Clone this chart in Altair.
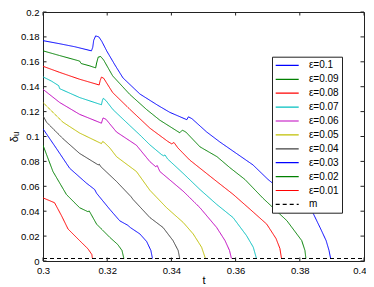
import altair as alt
import pandas as pd

# ---- data ----
labels = ["ε=0.1", "ε=0.09", "ε=0.08", "ε=0.07", "ε=0.06", "ε=0.05",
          "ε=0.04", "ε=0.03", "ε=0.02", "ε=0.01", "m"]
colors = ["#0000ff", "#008000", "#ff0000", "#00bfbf", "#bf00bf", "#bfbf00",
          "#404040", "#0000ff", "#008000", "#ff0000", "#000000"]
dashes = [[1, 0]] * 10 + [[4, 3]]

t_010 = [0.3, 0.3052, 0.3099, 0.3151, 0.3155, 0.3158, 0.3164, 0.3174, 0.3183, 0.3199,
         0.3224, 0.3249, 0.3302, 0.3358, 0.3395, 0.3448, 0.3453, 0.3464, 0.3510, 0.3551,
         0.3598, 0.3654, 0.3701, 0.3754, 0.3810, 0.3841, 0.3863, 0.3882, 0.3891, 0.3896]
d_010 = [0.1770, 0.1745, 0.1721, 0.1688, 0.1717, 0.1773, 0.1808, 0.1800, 0.1765, 0.1685,
         0.1575, 0.1471, 0.1341, 0.1250, 0.1194, 0.1135, 0.1158, 0.1143, 0.1036, 0.0956,
         0.0872, 0.0772, 0.0655, 0.0544, 0.0465, 0.0386, 0.0269, 0.0164, 0.0085, 0.002]

t_009 = [0.3, 0.3052, 0.3114, 0.3119, 0.3146, 0.3164, 0.3167, 0.3172, 0.3180, 0.3189,
         0.3217, 0.3270, 0.3323, 0.3364, 0.3426, 0.3434, 0.3445, 0.3489, 0.3542, 0.3582,
         0.3629, 0.3685, 0.3760, 0.3806, 0.3816, 0.3819]
d_009 = [0.1688, 0.1650, 0.1606, 0.1586, 0.1567, 0.1551, 0.1590, 0.1638, 0.1642, 0.1614,
         0.1487, 0.1339, 0.1216, 0.1131, 0.1030, 0.1051, 0.1036, 0.0917, 0.0838, 0.0750,
         0.0655, 0.0505, 0.0323, 0.0164, 0.0085, 0.002]

t_008 = [0.3, 0.3052, 0.3114, 0.3175, 0.3178, 0.3182, 0.3189, 0.3217, 0.3270, 0.3333,
         0.3389, 0.3401, 0.3408, 0.3420, 0.3457, 0.3541, 0.3592, 0.3644, 0.3697, 0.3726,
         0.3738, 0.3743]
d_008 = [0.1564, 0.1515, 0.1460, 0.1414, 0.1448, 0.1477, 0.1468, 0.1353, 0.1220, 0.1067,
         0.0960, 0.0941, 0.0952, 0.0909, 0.0811, 0.0639, 0.0536, 0.0418, 0.0296, 0.0180,
         0.0101, 0.002]

t_007 = [0.3, 0.3027, 0.3049, 0.3052, 0.3114, 0.3182, 0.3185, 0.3188, 0.3196, 0.3218,
         0.3270, 0.3302, 0.3333, 0.3370, 0.3376, 0.3380, 0.3388, 0.3437, 0.3489, 0.3541,
         0.3592, 0.3634, 0.3655, 0.3665]
d_007 = [0.1479, 0.1444, 0.1408, 0.1384, 0.1313, 0.1255, 0.1289, 0.1307, 0.1289, 0.1216,
         0.1089, 0.1012, 0.0933, 0.0853, 0.0845, 0.0852, 0.0820, 0.0703, 0.0574, 0.0455,
         0.0349, 0.0204, 0.0111, 0.002]

t_006 = [0.3, 0.3052, 0.3114, 0.3182, 0.3187, 0.3196, 0.3229, 0.3291, 0.3333, 0.3351,
         0.3356, 0.3364, 0.3437, 0.3489, 0.3541, 0.3567, 0.3581, 0.3587]
d_006 = [0.1379, 0.1273, 0.1178, 0.1107, 0.1149, 0.1139, 0.1036, 0.0930, 0.0798, 0.0758,
         0.0766, 0.0719, 0.0560, 0.0428, 0.0269, 0.0164, 0.0085, 0.002]

t_005 = [0.3, 0.3062, 0.3114, 0.3182, 0.3186, 0.3192, 0.3208, 0.3229, 0.3291, 0.3333,
         0.3385, 0.3437, 0.3468, 0.3494, 0.3506]
d_005 = [0.1273, 0.1115, 0.1028, 0.0943, 0.0960, 0.0949, 0.0909, 0.0838, 0.0719, 0.0568,
         0.0428, 0.0309, 0.0217, 0.0111, 0.002]

t_004 = [0.3, 0.3011, 0.3062, 0.3114, 0.3172, 0.3175, 0.3180, 0.3229, 0.3274, 0.3281,
         0.3333, 0.3374, 0.3405, 0.3421, 0.3426]
d_004 = [0.1168, 0.1115, 0.0983, 0.0864, 0.0772, 0.0778, 0.0758, 0.0639, 0.0517, 0.0493,
         0.0349, 0.0269, 0.0164, 0.0085, 0.002]

t_003 = [0.3, 0.3042, 0.3083, 0.3135, 0.3161, 0.3167, 0.3187, 0.3208, 0.3239, 0.3264,
         0.3273, 0.3302, 0.3323, 0.3336, 0.3341]
d_003 = [0.1062, 0.0903, 0.0745, 0.0626, 0.0574, 0.0544, 0.0481, 0.0415, 0.0323, 0.0287,
         0.0267, 0.0217, 0.0156, 0.0085, 0.002]

t_002 = [0.3, 0.3031, 0.3073, 0.3114, 0.3140, 0.3144, 0.3167, 0.3208, 0.3233, 0.3246, 0.3252]
d_002 = [0.0930, 0.0719, 0.0534, 0.0428, 0.0396, 0.0402, 0.0296, 0.0190, 0.0132, 0.0085, 0.002]

t_001 = [0.3, 0.3036, 0.3058, 0.3078, 0.3114, 0.3140, 0.3152, 0.3154]
d_001 = [0.0507, 0.0468, 0.0362, 0.0257, 0.0164, 0.0098, 0.0053, 0.002]

t_m = [0.3, 0.4]
d_m = [0.002, 0.002]

x_ticks = [0.3, 0.32, 0.34, 0.36, 0.38, 0.4]
y_ticks = [0, 0.02, 0.04, 0.06, 0.08, 0.1, 0.12, 0.14, 0.16, 0.18, 0.2]

series_t = [t_010, t_009, t_008, t_007, t_006, t_005, t_004, t_003, t_002, t_001, t_m]
series_d = [d_010, d_009, d_008, d_007, d_006, d_005, d_004, d_003, d_002, d_001, d_m]

rows = []
for lab, ts, ds in zip(labels, series_t, series_d):
    for i, (tv, dv) in enumerate(zip(ts, ds)):
        rows.append({"series": lab, "t": tv, "d": dv, "i": i})
df = pd.DataFrame(rows)

W, H = 321, 249
TICK = "#222222"
xs = alt.Scale(domain=[0.3, 0.4], nice=False, zero=False)
ys = alt.Scale(domain=[0, 0.2], nice=False)
xaxis = alt.Axis(values=x_ticks, format=".2~f", title="t", labelPadding=4,
                 titlePadding=0, titleFontSize=11, labelFlush=False,
                 labelAlign={"condition": {"test": "datum.value >= 0.399", "value": "right"},
                             "value": "center"},
                 labelOffset={"condition": {"test": "datum.value >= 0.399", "value": 2},
                              "value": 0})
yaxis = alt.Axis(values=y_ticks, format=".2~f", title="δᵤ", labelPadding=4,
                 titlePadding=1, titleFontSize=11, labelFlush=False)

leg = alt.Legend(title=None, orient="none", legendX=229, legendY=44.7,
                 symbolType="M-2.3,0L2.3,0", symbolSize=100, symbolStrokeWidth=1.2,
                 symbolOffset=6.5, labelOffset=15.7,
                 labelFontSize=10, labelFont="Liberation Sans", padding=2.7,
                 strokeColor=TICK, fillColor="white", rowPadding=2.9)

lines = alt.Chart(df).mark_line(strokeWidth=1, clip=True).encode(
    x=alt.X("t:Q", scale=xs, axis=xaxis),
    y=alt.Y("d:Q", scale=ys, axis=yaxis),
    color=alt.Color("series:N", scale=alt.Scale(domain=labels, range=colors), legend=leg),
    strokeDash=alt.StrokeDash("series:N", scale=alt.Scale(domain=labels, range=dashes),
                              legend=leg),
    order="i:Q",
)

xt = pd.DataFrame({"t": x_ticks})
yt = pd.DataFrame({"d": y_ticks})
TL = 3.5
tb = alt.Chart(xt).mark_rule(color=TICK, strokeWidth=1).encode(
    x=alt.X("t:Q", scale=xs, axis=xaxis), y=alt.value(H), y2=alt.value(H - TL))
tt = alt.Chart(xt).mark_rule(color=TICK, strokeWidth=1).encode(
    x=alt.X("t:Q", scale=xs, axis=xaxis), y=alt.value(0), y2=alt.value(TL))
tl = alt.Chart(yt).mark_rule(color=TICK, strokeWidth=1).encode(
    y=alt.Y("d:Q", scale=ys, axis=yaxis), x=alt.value(0), x2=alt.value(TL))
tr = alt.Chart(yt).mark_rule(color=TICK, strokeWidth=1).encode(
    y=alt.Y("d:Q", scale=ys, axis=yaxis), x=alt.value(W - TL), x2=alt.value(W))

chart = alt.layer(lines, tb, tt, tl, tr).properties(
    width=W, height=H,
    autosize=alt.AutoSizeParams(type="none"),
    padding={"left": 35, "top": 4, "right": 2, "bottom": 26},
).configure_view(stroke=TICK, strokeWidth=1).configure_axis(
    domain=False, ticks=False, grid=False,
    labelFont="Liberation Sans", labelFontSize=9.5, labelColor="black",
    titleFont="Liberation Sans", titleFontWeight="normal", titleColor="black",
)

chart.save("out.html", embed_options={"renderer": "svg", "actions": False})
